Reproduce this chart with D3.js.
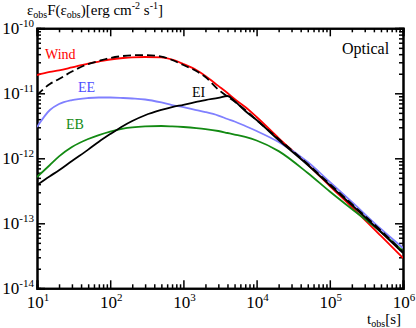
<!DOCTYPE html>
<html>
<head>
<meta charset="utf-8">
<script src="https://cdn.jsdelivr.net/npm/d3@7"></script>
<style>
  html, body { margin: 0; padding: 0; background: #fff; }
  svg { display: block; }
</style>
</head>
<body>
<svg id="chart" width="416" height="328" font-family="'Liberation Serif', 'Times New Roman', Times, 'DejaVu Serif', serif"></svg>
<script>
// ---- data ----
const tObs = [10, 15, 20, 30, 50, 70, 100, 150, 200, 300, 500, 700, 1000, 1500, 2000,
              3000, 4000, 5000, 7000, 1e4, 2e4, 5e4, 1e5, 2e5, 5e5, 1e6];
const windF = [1.91e-11, 2.13e-11, 2.25e-11, 2.50e-11, 2.87e-11, 3.08e-11, 3.31e-11, 3.49e-11, 3.58e-11,
               3.62e-11, 3.56e-11, 3.31e-11, 2.82e-11, 2.28e-11, 1.85e-11, 1.30e-11, 1.01e-11, 8.17e-12,
               6.15e-12, 4.32e-12, 2.05e-12, 8.03e-13, 3.75e-13, 1.78e-13, 6.38e-14, 2.92e-14];
const totalF = [9.42e-12, 1.39e-11, 1.66e-11, 2.16e-11, 2.82e-11, 3.14e-11, 3.49e-11, 3.75e-11, 3.85e-11,
                3.88e-11, 3.68e-11, 3.25e-11, 2.72e-11, 2.20e-11, 1.78e-11, 1.14e-11, 8.93e-12, 7.48e-12,
                5.53e-12, 3.88e-12, 1.98e-12, 8.16e-13, 4.02e-13, 1.98e-13, 7.74e-14, 3.61e-14];
const eeF = [3.03e-12, 5.53e-12, 6.84e-12, 7.88e-12, 8.47e-12, 8.62e-12, 8.62e-12, 8.47e-12, 8.32e-12,
             8.03e-12, 7.22e-12, 6.60e-12, 6.15e-12, 5.53e-12, 5.15e-12, 4.55e-12, 4.02e-12, 3.68e-12,
             3.14e-12, 2.63e-12, 1.78e-12, 8.77e-13, 4.32e-13, 2.13e-13, 8.17e-14, 4.17e-14];
const ebF = [5.15e-13, 7.88e-13, 1.07e-12, 1.49e-12, 1.98e-12, 2.28e-12, 2.58e-12, 2.87e-12, 3.00e-12,
             3.10e-12, 3.14e-12, 3.10e-12, 3.03e-12, 2.92e-12, 2.82e-12, 2.63e-12, 2.45e-12, 2.32e-12,
             2.13e-12, 1.88e-12, 1.29e-12, 5.94e-13, 3.08e-13, 1.66e-13, 7.35e-14, 3.75e-14];
const eiF = [3.88e-13, 5.30e-13, 6.55e-13, 9.10e-13, 1.36e-12, 1.80e-12, 2.36e-12, 3.15e-12, 3.75e-12,
             4.60e-12, 5.55e-12, 6.15e-12, 6.65e-12, 7.35e-12, 7.88e-12, 8.50e-12, 9.08e-12, 7.62e-12,
             5.35e-12, 3.88e-12, 1.91e-12, 7.88e-13, 3.88e-13, 1.91e-13, 7.35e-14, 3.49e-14];

const xMajor = [10, 100, 1000, 1e4, 1e5, 1e6];
const xMajorExp = ["1", "2", "3", "4", "5", "6"];
const yMajor = [1e-14, 1e-13, 1e-12, 1e-11, 1e-10];
const yMajorExp = ["-14", "-13", "-12", "-11", "-10"];

const seriesNames = ["Wind", "EE", "EB", "EI", "Total"];

// ---- layout ----
const FONT = "'Liberation Serif', 'Times New Roman', Times, 'DejaVu Serif', serif";
const svg = d3.select("#chart");
const L = 37, R = 403, T = 28.3, B = 288.3;
const x = d3.scaleLog().domain([10, 1e6]).range([L, R]);
const y = d3.scaleLog().domain([1e-14, 1e-10]).range([B, T]);

function minors(lo, hi) {
  const out = [];
  for (let p = lo; p < hi; p++) for (let k = 2; k <= 9; k++) out.push(k * Math.pow(10, p));
  return out;
}
const xMinor = minors(1, 6);
const yMinor = minors(-14, -10);

// axes (inward ticks on all four sides)
function drawAxis(axisFn, scale, ticks, size, transform) {
  const g = svg.append("g").attr("transform", transform)
    .call(axisFn(scale).tickValues(ticks).tickSize(size).tickFormat(""));
  g.select(".domain").attr("stroke", "#000").attr("stroke-width", 2);
  g.selectAll(".tick line").attr("stroke", "#000").attr("stroke-width", 1.5);
  return g;
}
drawAxis(d3.axisBottom, x, xMajor, -8, `translate(0,${B})`);
drawAxis(d3.axisBottom, x, xMinor, -4, `translate(0,${B})`);
drawAxis(d3.axisTop, x, xMajor, -8, `translate(0,${T})`);
drawAxis(d3.axisTop, x, xMinor, -4, `translate(0,${T})`);
drawAxis(d3.axisLeft, y, yMajor, -8, `translate(${L},0)`);
drawAxis(d3.axisLeft, y, yMinor, -4, `translate(${L},0)`);
drawAxis(d3.axisRight, y, yMajor, -8, `translate(${R},0)`);
drawAxis(d3.axisRight, y, yMinor, -4, `translate(${R},0)`);

function txt(xp, yp, size, anchor, color) {
  return svg.append("text").attr("x", xp).attr("y", yp).attr("font-size", size)
    .attr("font-family", FONT).attr("text-anchor", anchor || "start").attr("fill", color || "#000");
}

// tick labels
xMajor.forEach((v, i) => {
  const t = txt(x(v) + 1, B + 20, 17, "middle");
  t.append("tspan").text("10");
  t.append("tspan").attr("font-size", 11).attr("dy", -7).text(xMajorExp[i]);
});
yMajor.forEach((v, i) => {
  const t = txt(34, y(v) + 6, 17, "end");
  t.append("tspan").text("10");
  t.append("tspan").attr("font-size", 11).attr("dy", -7).text(yMajorExp[i]);
});

// axis titles
const yt = txt(27, 15, 15);
yt.append("tspan").text("ε");
yt.append("tspan").attr("font-size", 10).attr("dy", 3).text("obs");
yt.append("tspan").attr("dy", -3).text("F(ε");
yt.append("tspan").attr("font-size", 10).attr("dy", 3).text("obs");
yt.append("tspan").attr("dy", -3).text(")[erg cm");
yt.append("tspan").attr("font-size", 10).attr("dy", -6).text("-2");
yt.append("tspan").attr("dy", 6).text(" s");
yt.append("tspan").attr("font-size", 10).attr("dy", -6).text("-1");
yt.append("tspan").attr("dy", 6).text("]");

const xt = txt(401, 324, 15, "end");
xt.append("tspan").text("t");
xt.append("tspan").attr("font-size", 10).attr("dy", 3).text("obs");
xt.append("tspan").attr("dy", -3).text("[s]");

// curves
svg.append("clipPath").attr("id", "plotclip")
  .append("rect").attr("x", L).attr("y", T).attr("width", R - L).attr("height", B - T);
const plot = svg.append("g").attr("clip-path", "url(#plotclip)");
const line = d3.line().x(d => x(d[0])).y(d => y(d[1])).curve(d3.curveMonotoneX);
const series = [
  { name: "Wind", vals: windF, color: "#ff0000", dash: null },
  { name: "EE", vals: eeF, color: "#8080ff", dash: null },
  { name: "EB", vals: ebF, color: "#138a13", dash: null },
  { name: "EI", vals: eiF, color: "#000000", dash: null },
  { name: "Total", vals: totalF, color: "#000000", dash: "8,4" }
];
series.forEach(s => {
  plot.append("path").datum(tObs.map((t, i) => [t, s.vals[i]]))
    .attr("d", line).attr("fill", "none").attr("stroke", s.color)
    .attr("stroke-width", 1.8).attr("stroke-dasharray", s.dash);
});

// series labels
const labels = [
  { text: "Wind", x: 45, y: 59, color: "#ff0000" },
  { text: "EE", x: 78, y: 92, color: "#4d4dff" },
  { text: "EB", x: 66, y: 129, color: "#138a13" },
  { text: "EI", x: 192, y: 97, color: "#000000" },
  { text: "Optical", x: 342, y: 54, color: "#000000", size: 16 }
];
labels.forEach(l => {
  txt(l.x, l.y, l.size || 14, "start", l.color).text(l.text);
});
</script>
</body>
</html>
